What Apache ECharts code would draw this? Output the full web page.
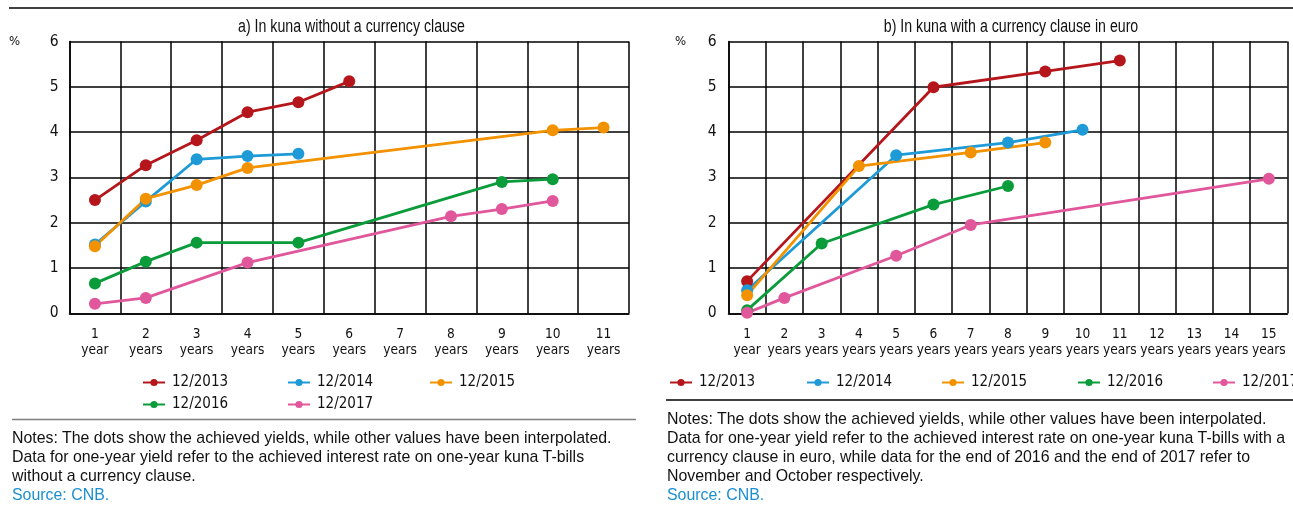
<!DOCTYPE html>
<html>
<head>
<meta charset="utf-8">
<script src="https://cdn.jsdelivr.net/npm/echarts@6/dist/echarts.min.js"></script>
<style>
html,body{margin:0;padding:0;background:#fff;}
#chart{position:absolute;left:0;top:0;width:1293px;height:509px;}
.note{position:absolute;font-family:'Liberation Sans',Arial,sans-serif;font-size:15.9px;line-height:19px;color:#111;white-space:nowrap;}
.src{color:#1a8fd0;}
</style>
</head>
<body>
<div id="chart"></div>
<div class="note" style="left:12px;top:428px;">Notes: The dots show the achieved yields, while other values have been interpolated.<br>Data for one-year yield refer to the achieved interest rate on one-year kuna T-bills<br>without a currency clause.<br><span class="src">Source: CNB.</span></div>
<div class="note" style="left:667px;top:409px;">Notes: The dots show the achieved yields, while other values have been interpolated.<br>Data for one-year yield refer to the achieved interest rate on one-year kuna T-bills with a<br>currency clause in euro, while data for the end of 2016 and the end of 2017 refer to<br>November and October respectively.<br><span class="src">Source: CNB.</span></div>
<script>
// ---- Data ----
const titleA = 'a) In kuna without a currency clause';
const titleB = 'b) In kuna with a currency clause in euro';
const seriesNames = ['12/2013', '12/2014', '12/2015', '12/2016', '12/2017'];
const categoriesA = ['1\nyear', '2\nyears', '3\nyears', '4\nyears', '5\nyears', '6\nyears', '7\nyears', '8\nyears', '9\nyears', '10\nyears', '11\nyears'];
const categoriesB = ['1\nyear', '2\nyears', '3\nyears', '4\nyears', '5\nyears', '6\nyears', '7\nyears', '8\nyears', '9\nyears', '10\nyears', '11\nyears', '12\nyears', '13\nyears', '14\nyears', '15\nyears'];
const yTicks = [0, 1, 2, 3, 4, 5, 6];

const a2013 = [2.50, 3.27, 3.82, 4.44, 4.66, 5.12, null, null, null, null, null];
const a2014 = [1.52, 2.47, 3.40, 3.47, 3.52, null, null, null, null, null, null];
const a2015 = [1.48, 2.53, 2.83, 3.21, null, null, null, null, null, 4.04, 4.10];
const a2016 = [0.66, 1.14, 1.56, null, 1.56, null, null, null, 2.90, 2.96, null];
const a2017 = [0.21, 0.34, null, 1.12, null, null, null, 2.14, 2.30, 2.48, null];

const b2013 = [0.71, null, null, null, null, 4.99, null, null, 5.34, null, 5.58, null, null, null, null];
const b2014 = [0.51, null, null, null, 3.49, null, null, 3.77, null, 4.05, null, null, null, null, null];
const b2015 = [0.40, null, null, 3.25, null, null, 3.55, null, 3.77, null, null, null, null, null, null];
const b2016 = [0.07, null, 1.54, null, null, 2.40, null, 2.81, null, null, null, null, null, null, null];
const b2017 = [0.01, 0.34, null, null, 1.27, null, 1.95, null, null, null, null, null, null, null, 2.97];

const colors = ['#b5161b', '#1e9ad6', '#f39200', '#0a9c3a', '#e0579b'];

// ---- Chart ----
const NARROW = "'DejaVu Sans Condensed','Liberation Sans',sans-serif";
const chart = echarts.init(document.getElementById('chart'), null, {renderer: 'canvas'});

function xAxisFor(cats, gi) {
  return {
    type: 'category', gridIndex: gi, data: cats, boundaryGap: true,
    axisLine: {lineStyle: {color: '#000', width: 1.5}},
    axisTick: {show: false},
    axisLabel: {color: '#111', fontFamily: NARROW, fontSize: 13.6, lineHeight: 16, margin: 13, interval: 0},
    splitLine: {show: true, interval: 0, lineStyle: {color: '#000', width: 1.5}}
  };
}
function yAxisFor(gi, margin) {
  return {
    type: 'value', gridIndex: gi, min: yTicks[0], max: yTicks[yTicks.length - 1], interval: 1,
    axisLine: {show: true, lineStyle: {color: '#000', width: 1.5}},
    axisTick: {show: false},
    axisLabel: {color: '#111', fontFamily: NARROW, fontSize: 15.5, margin: margin},
    splitLine: {show: true, lineStyle: {color: '#000', width: 1.5}}
  };
}
function mkSeries(name, data, idx, gi) {
  return {
    name: name, type: 'line', xAxisIndex: gi, yAxisIndex: gi, data: data,
    connectNulls: true, symbol: 'circle', symbolSize: 12, showAllSymbol: true,
    itemStyle: {color: colors[idx]},
    lineStyle: {color: colors[idx], width: 2.8},
    emphasis: {disabled: true}, animation: false
  };
}
const aData = [a2013, a2014, a2015, a2016, a2017];
const bData = [b2013, b2014, b2015, b2016, b2017];
const series = [];
aData.forEach((d, i) => series.push(mkSeries(seriesNames[i], d, i, 0)));
bData.forEach((d, i) => series.push(mkSeries(seriesNames[i], d, i, 1)));

function legendItem(name, x, yc) {
  return {
    data: [name], left: x, top: yc - 10, itemWidth: 22, itemHeight: 9, itemGap: 7,
    selectedMode: false,
    textStyle: {fontFamily: NARROW, fontSize: 15, color: '#111', padding: [0, 0, 0, 2]}
  };
}
const legends = [
  legendItem(seriesNames[0], 137, 380),
  legendItem(seriesNames[1], 282, 380),
  legendItem(seriesNames[2], 424, 380),
  legendItem(seriesNames[3], 137, 402),
  legendItem(seriesNames[4], 282, 402),
  legendItem(seriesNames[0], 664, 380),
  legendItem(seriesNames[1], 801, 380),
  legendItem(seriesNames[2], 936, 380),
  legendItem(seriesNames[3], 1072, 380),
  legendItem(seriesNames[4], 1207, 380)
];

function titleText(text, x) {
  return {
    type: 'text', x: x, y: 27, scaleX: 0.81,
    style: {text: text, fontFamily: "'Liberation Sans',Arial,sans-serif", fontSize: 17.5, fill: '#111', align: 'center', verticalAlign: 'middle'}
  };
}

chart.setOption({
  animation: false,
  grid: [
    {left: 69.5, top: 41.5, width: 559.5, height: 271.8},
    {left: 728.5, top: 41.5, width: 559, height: 271.8}
  ],
  xAxis: [xAxisFor(categoriesA, 0), xAxisFor(categoriesB, 1)],
  yAxis: [yAxisFor(0, 11), yAxisFor(1, 12)],
  legend: legends,
  series: series,
  graphic: [
    titleText(titleA, 351.5),
    titleText(titleB, 1011),
    {type: 'line', shape: {x1: 9, y1: 8, x2: 1293, y2: 8}, style: {stroke: '#000', lineWidth: 1.5}},
    {type: 'line', shape: {x1: 12, y1: 419.5, x2: 636, y2: 419.5}, style: {stroke: '#7f7f7f', lineWidth: 1.5}},
    {type: 'line', shape: {x1: 666, y1: 400, x2: 1293, y2: 400}, style: {stroke: '#000', lineWidth: 1.3}},
    {type: 'text', left: 9, top: 35, style: {text: '%', fontFamily: NARROW, fontSize: 13, fill: '#111'}},
    {type: 'text', left: 675, top: 35, style: {text: '%', fontFamily: NARROW, fontSize: 13, fill: '#111'}}
  ]
});
</script>
</body>
</html>
